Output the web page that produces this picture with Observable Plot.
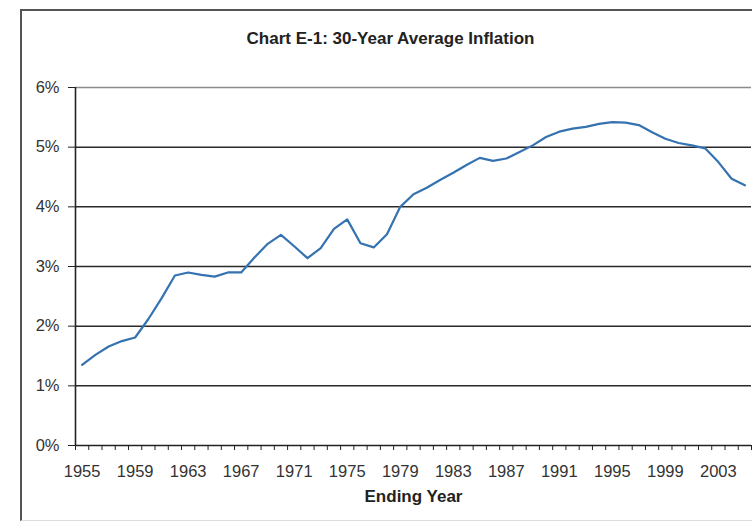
<!DOCTYPE html>
<html><head><meta charset="utf-8">
<script src="https://cdn.jsdelivr.net/npm/d3@7"></script>
<script src="https://cdn.jsdelivr.net/npm/@observablehq/plot@0.6"></script>
<style>
body{margin:0;background:#fff;}
#wrap{position:relative;width:752px;height:521px;overflow:hidden;background:#fff;}
#border{position:absolute;left:20px;top:9px;width:760px;height:509px;border-left:2px solid #555;border-top:2px solid #555;border-bottom:1px solid #ddd;}
#chart{position:absolute;left:0;top:0;}
</style></head><body>
<div id="wrap"><div id="border"></div><div id="chart"></div></div>
<script>
const years = [1955,1956,1957,1958,1959,1960,1961,1962,1963,1964,1965,1966,1967,1968,1969,1970,
  1971,1972,1973,1974,1975,1976,1977,1978,1979,1980,1981,1982,1983,1984,1985,1986,1987,1988,
  1989,1990,1991,1992,1993,1994,1995,1996,1997,1998,1999,2000,2001,2002,2003,2004,2005];
const inflation = [1.35,1.52,1.66,1.75,1.81,2.12,2.47,2.85,2.90,2.86,2.83,2.90,2.90,3.15,3.38,3.53,
  3.34,3.14,3.31,3.63,3.79,3.39,3.32,3.54,4.00,4.21,4.32,4.45,4.57,4.70,4.82,4.77,4.81,4.92,
  5.03,5.17,5.26,5.31,5.34,5.39,5.42,5.41,5.37,5.25,5.14,5.07,5.03,4.98,4.75,4.47,4.36];
const yTicks = [0,1,2,3,4,5,6];
const xTickLabels = [1955,1959,1963,1967,1971,1975,1979,1983,1987,1991,1995,1999,2003];
const title = "Chart E-1: 30-Year Average Inflation";
const xLabel = "Ending Year";

const data = years.map((y, i) => ({year: y, value: inflation[i]}));
const boundaries = years.map(y => y - 0.5).concat([years[years.length - 1] + 0.5]);

const chart = Plot.plot({
  width: 752, height: 521,
  marginLeft: 75, marginRight: 1, marginTop: 87, marginBottom: 76,
  style: {fontFamily: "'Liberation Sans', Arial, sans-serif", fontSize: "16.5px", color: "#333", background: "transparent"},
  x: {domain: [boundaries[0], boundaries[boundaries.length - 1]]},
  y: {domain: [0, 6]},
  marks: [
    Plot.ruleY(yTicks.filter(d => d > 0 && d < 6), {stroke: "#2a2a2a", strokeWidth: 1.5}),
    Plot.ruleY([6], {stroke: "#8c8c8c", strokeWidth: 1.3}),
    Plot.ruleY([0], {stroke: "#222", strokeWidth: 1.6}),
    Plot.ruleX([boundaries[0]], {stroke: "#222", strokeWidth: 1.6}),
    Plot.axisY(yTicks, {tickSize: 7, tickPadding: 9, tickFormat: d => d + "%", label: null, stroke: "#222"}),
    Plot.axisX(boundaries, {tickSize: 5, tickFormat: () => "", label: null, stroke: "#222"}),
    Plot.axisX(xTickLabels, {tickSize: 0, tickPadding: 20, tickFormat: d => String(d), label: null}),
    Plot.line(data, {x: "year", y: "value", stroke: "#3572b0", strokeWidth: 2.2}),
    Plot.text([title], {text: d => d, frameAnchor: "top", dy: -56, dx: -23, fontWeight: "bold", fontSize: 17, fill: "#222"}),
    Plot.text([xLabel], {text: d => d, frameAnchor: "bottom", dy: 56, fontWeight: "bold", fontSize: 17, fill: "#222"})
  ]
});
document.getElementById("chart").appendChild(chart);
</script>
</body></html>
